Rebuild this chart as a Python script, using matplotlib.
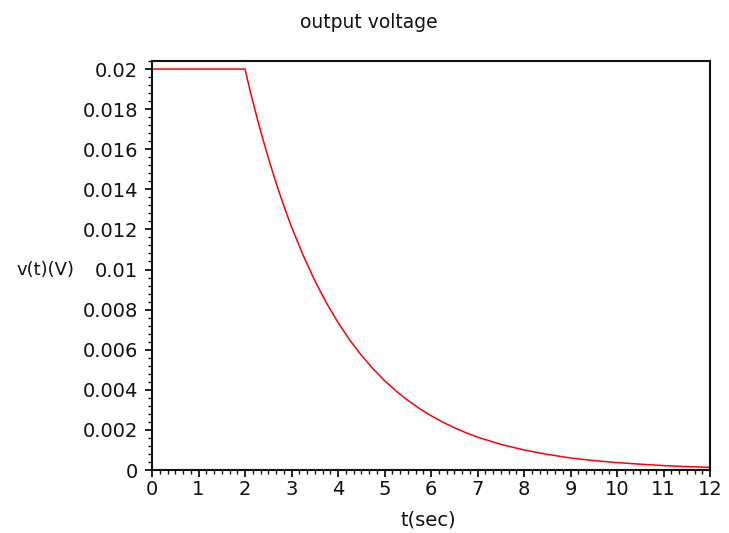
import matplotlib
matplotlib.use("Agg")
import matplotlib.pyplot as plt
from matplotlib.ticker import MultipleLocator, AutoMinorLocator, FuncFormatter

t = [0.0, 2.0, 2.125, 2.25, 2.375, 2.5, 2.625, 2.75, 2.875, 3.0, 3.25, 3.5, 3.75, 4.0,
     4.25, 4.5, 4.75, 5.0, 5.25, 5.5, 5.75, 6.0, 6.25, 6.5, 6.75,
     7.0, 7.5, 8.0, 8.5, 9.0, 9.5, 10.0, 10.5, 11.0, 11.5, 12.0]
v = [0.02, 0.02, 0.01877, 0.01765, 0.01658, 0.01558, 0.01464, 0.01375, 0.01292,
     0.01213, 0.01071, 0.00945, 0.00834, 0.00736, 0.00649, 0.00573, 0.00506,
     0.00446, 0.00394, 0.00348, 0.00307, 0.00271, 0.00239, 0.00211, 0.00186,
     0.00164, 0.00128, 0.00100, 0.00078, 0.00060, 0.00047, 0.00037, 0.00029,
     0.00022, 0.00017, 0.00013]

title = "output voltage"
xlabel = "t(sec)"
ylabel = "v(t)(V)"

plt.rcParams['font.family'] = ['DejaVu Sans']
fig = plt.figure(figsize=(7.29, 5.33), dpi=100)
ax = fig.add_axes([152/729, 1-470/533, (710-152)/729, (470-61)/533])
ax.plot(t, v, color='#ff0000', lw=1.1)
ax.set_xlim(0, 12)
ax.set_ylim(0, 0.0204)

ax.xaxis.set_major_locator(MultipleLocator(1))
ax.xaxis.set_minor_locator(AutoMinorLocator(6))
ax.yaxis.set_major_locator(MultipleLocator(0.002))
ax.yaxis.set_minor_locator(AutoMinorLocator(5))
ax.yaxis.set_major_formatter(FuncFormatter(lambda x, p: "%g" % round(x, 6)))
ax.xaxis.set_major_formatter(FuncFormatter(lambda x, p: "%g" % round(x, 6)))

for s in ax.spines.values():
    s.set_linewidth(1.5)
    s.set_color('#111111')
ax.tick_params(which='major', direction='out', length=5, width=1.3, colors='#111111',
               labelsize=14, labelcolor='#111111')
ax.tick_params(which='minor', direction='out', length=3, width=1.0, colors='#111111')
ax.tick_params(axis='y', pad=5)
ax.tick_params(axis='x', pad=2)

fig.text(369/729, 1-22/533, title, ha='center', va='center', fontsize=13.5, color='#111111')
fig.text(428/729, 1-520/533, xlabel, ha='center', va='center', fontsize=14, color='#111111')
fig.text(45/729, 1-270/533, ylabel, ha='center', va='center', fontsize=13, color='#111111')

fig.savefig("out.png", dpi=100)
